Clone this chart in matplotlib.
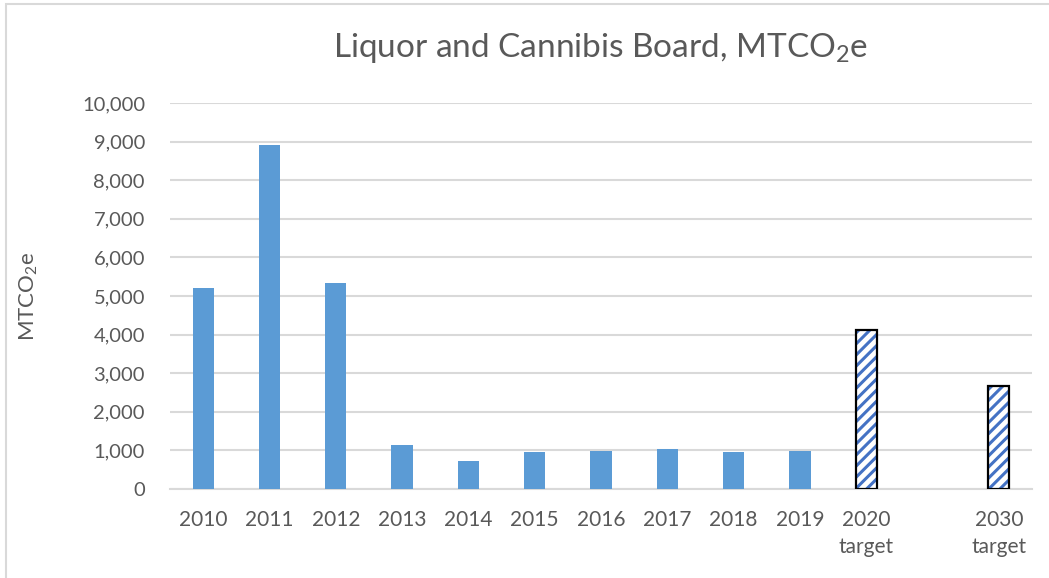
import matplotlib.pyplot as plt
import matplotlib.patches as mpatches
import numpy as np

plt.rcParams['font.family'] = ['Lato', 'DejaVu Sans']
plt.rcParams['hatch.linewidth'] = 2.2

#%% data
categories = ['2010', '2011', '2012', '2013', '2014', '2015', '2016', '2017',
              '2018', '2019', '2020\ntarget', '', '2030\ntarget']
values = [5200, 8900, 5335, 1130, 735, 950, 975, 1045, 965, 990, 4110, 0, 2660]
is_target = [False] * 10 + [True, False, True]

bar_color = '#5B9BD5'
hatch_color = '#4472C4'
text_color = '#595959'
grid_color = '#D9D9D9'

#%% plot
fig = plt.figure(figsize=(10.49, 5.78), dpi=100)
ax = fig.add_axes([170 / 1049, 89 / 578, 862 / 1049, 386 / 578])

x = np.arange(len(categories))
for i in range(len(categories)):
    if categories[i] == '':
        continue
    if is_target[i]:
        ax.bar(x[i], values[i], width=0.32, color='white', edgecolor=hatch_color,
               hatch='///', linewidth=0, zorder=3)
        ax.bar(x[i], values[i], width=0.32, color='none', edgecolor='black',
               linewidth=1.6, zorder=4)
    else:
        ax.bar(x[i], values[i], width=0.32, color=bar_color, zorder=3)

ax.set_xlim(-0.5, len(categories) - 0.5)
ax.set_ylim(0, 10000)
ax.set_yticks(np.arange(0, 10001, 1000))
ax.set_yticklabels([f'{v:,}' for v in range(0, 10001, 1000)])
ax.set_xticks(x)
ax.set_xticklabels(categories, linespacing=1.45, fontsize=15)
ax.yaxis.grid(True, color=grid_color, linewidth=1.5, zorder=0)
ax.set_axisbelow(True)
for s in ['top', 'right', 'left']:
    ax.spines[s].set_visible(False)
ax.spines['bottom'].set_color(grid_color)
ax.spines['bottom'].set_linewidth(1.5)
ax.tick_params(axis='both', length=0, colors=text_color)
ax.tick_params(axis='y', pad=18, labelsize=14.5)
ax.tick_params(axis='x', pad=15)

ax.set_ylabel('MTCO$\\mathregular{_2}$e', fontsize=16, color=text_color, labelpad=30)
fig.text(0.572, 0.917, 'Liquor and Cannibis Board, MTCO$\\mathregular{_2}$e',
         ha='center', va='center', fontsize=24, color=text_color)

# outer chart border
fig.patches.append(mpatches.Rectangle((6 / 1049, -0.1), 1.2, (574 / 578) + 0.1,
                                      transform=fig.transFigure, fill=False,
                                      edgecolor='#D9D9D9', linewidth=1.5))

plt.savefig('out.png', dpi=100)
